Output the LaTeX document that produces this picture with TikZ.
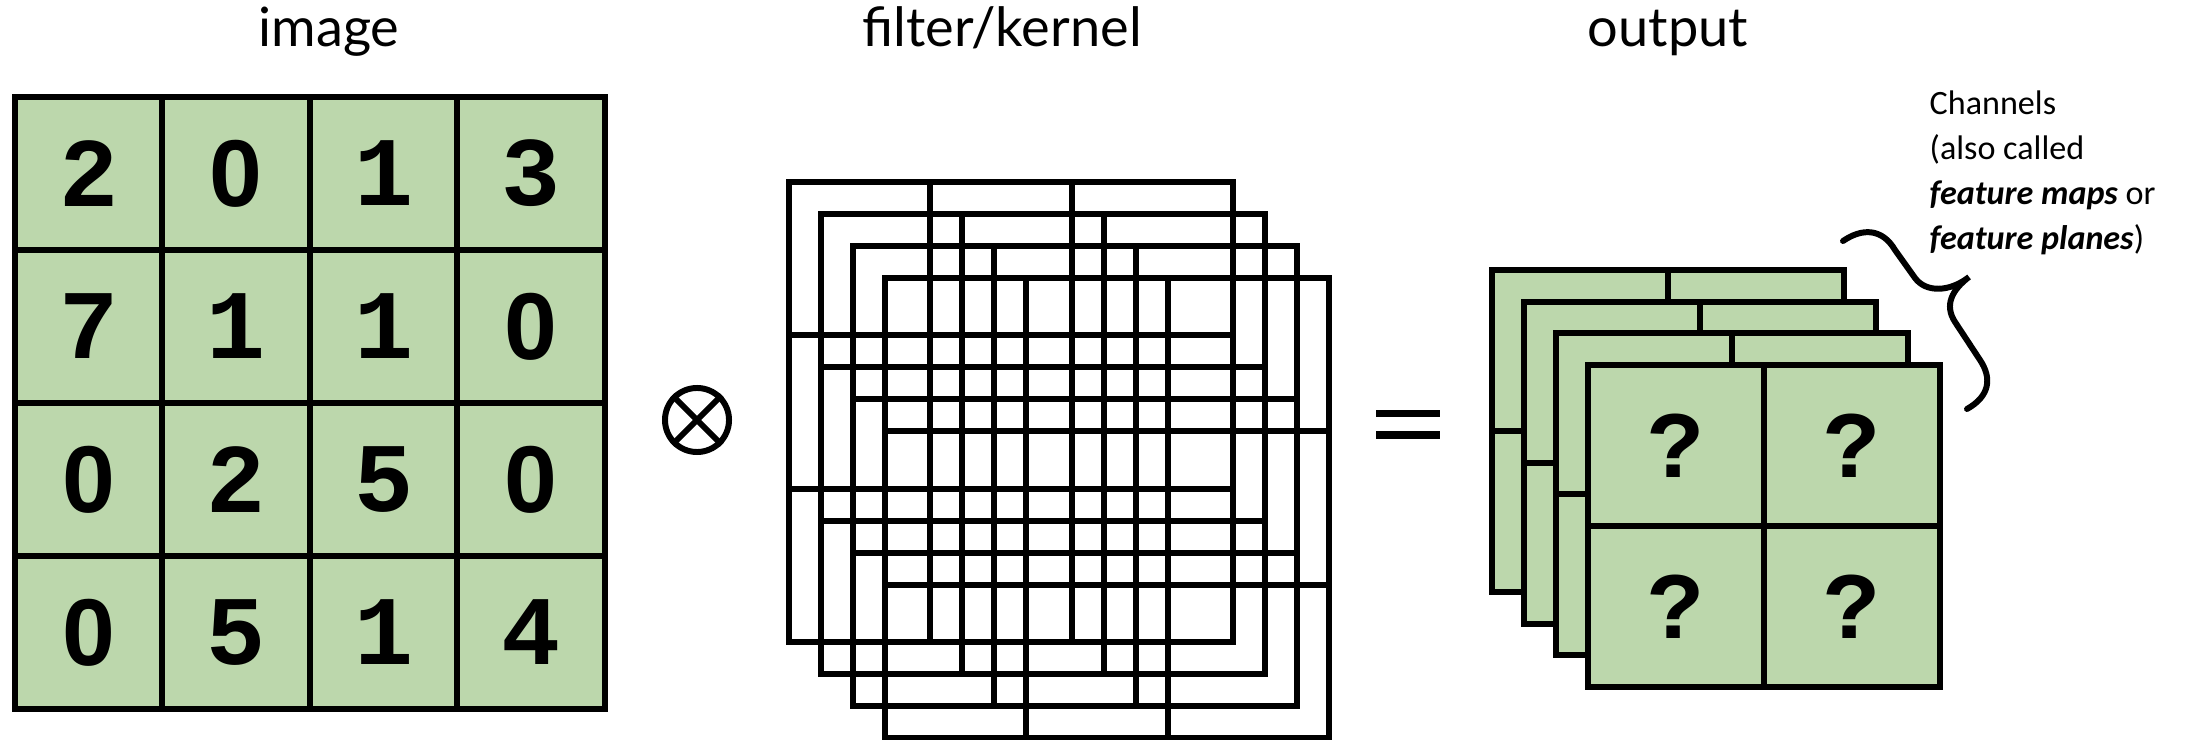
\documentclass[tikz,border=0pt]{standalone}
\usepackage{fontspec}
\setmainfont{Lato}
\newfontfamily\digitfont{Liberation Mono}
\newfontfamily\cerofont{Liberation Sans}
\newfontfamily\notefont{Carlito}
\usetikzlibrary{positioning}
\definecolor{verdecelda}{HTML}{BCD7AC}
\newcommand\cero{{\cerofont\bfseries\fontsize{27}{27}\selectfont 0}}

\begin{document}
\begin{tikzpicture}[x=0.01cm, y=-0.01cm,
  celda/.style={draw, line width=1.7pt, fill=verdecelda, minimum width=1.475cm,
                minimum height=1.53cm, inner sep=0pt, font=\digitfont\bfseries\fontsize{28}{28}\selectfont},
  titulo/.style={anchor=base, font=\fontsize{15.4}{18}\selectfont},
  rejilla/.style={line width=1.7pt},
  pregunta/.style={font=\digitfont\bfseries\fontsize{27}{27}\selectfont},
  nota/.style={align=left, inner sep=0pt, font=\notefont\fontsize{9.7}{12.8}\selectfont}]
\useasboundingbox (0,0) rectangle (2194,740);
% titulos
\node[titulo] (timg) at (329,47) {image};
\node[titulo] (tfil) at (1002,47) {filter/kernel};
\node[titulo] (tout) at (1668,47) {output};
% imagen 4x4
\foreach \v [count=\i from 0] in {2,0,1,3,7,1,1,0,0,2,5,0,0,5,1,4}{
  \pgfmathtruncatemacro\col{mod(\i,4)}
  \pgfmathtruncatemacro\fil{div(\i,4)}
  \node[celda] (img-\fil-\col) at ({88.75+147.5*\col},{173.5+153*\fil}) {\ifnum\v=0 \cero\else\v\fi};
}
% operador
\node[circle, draw, line width=1.7pt, minimum size=0.64cm, inner sep=0pt] (conv) at (697,420) {};
\draw[line width=1.7pt] (conv.north west) -- (conv.south east) (conv.north east) -- (conv.south west);
% filtros
\foreach \k in {0,...,3}{
  \begin{scope}[shift={(32*\k,32*\k)}]
    \draw[rejilla] (789,182) rectangle (1233,642);
    \draw[rejilla] (930,182) -- (930,642) (1072,182) -- (1072,642)
                   (789,335.3) -- (1233,335.3) (789,488.7) -- (1233,488.7);
  \end{scope}
}
% igual
\draw[line width=2pt] (1376,413.5) -- (1440,413.5) (1376,435) -- (1440,435);
% salida
\foreach \k in {0,...,3}{
  \begin{scope}[shift={(32*\k,31.7*\k)}]
    \draw[rejilla, fill=verdecelda] (1492,270) rectangle (1844,592);
    \draw[rejilla] (1668,270) -- (1668,592) (1492,431) -- (1844,431);
  \end{scope}
}
\node[pregunta] (q11) at (1676,445.5) {?};
\node[pregunta] (q12) at (1852,445.5) {?};
\node[pregunta] (q21) at (1676,606.5) {?};
\node[pregunta] (q22) at (1852,606.5) {?};
% llave y nota
\draw[line width=1.7pt, line cap=round]
  (1843,241) .. controls (1862,228) and (1882,228) .. (1895,250) -- (1915,278)
  .. controls (1926,293) and (1950,292) .. (1969,277)
  .. controls (1952,290) and (1944,305) .. (1955,322) -- (1980,360)
  .. controls (1992,378) and (1990,396) .. (1967,409);
\node[nota, anchor=north west] (canales) at (1929,90)
  {Channels\\(also called\\\textbf{\textit{feature maps}} or\\\textbf{\textit{feature planes}})};
\end{tikzpicture}
\end{document}
